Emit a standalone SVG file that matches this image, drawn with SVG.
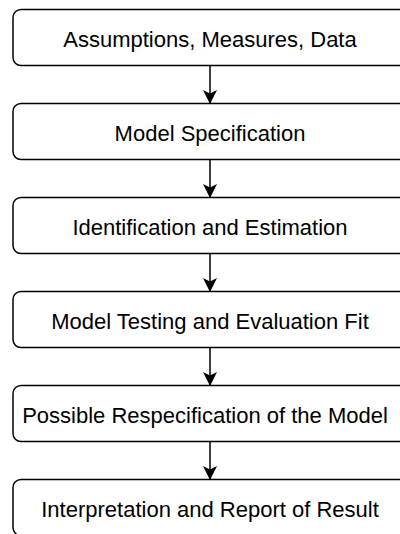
<svg xmlns="http://www.w3.org/2000/svg" width="400" height="534" viewBox="0 0 400 534">
<defs>
<style>
.box{fill:#fff;stroke:#000;stroke-width:1.5}
.lbl{font-family:"Liberation Sans",Arial,Helvetica,sans-serif;font-size:22px;fill:#000;text-anchor:middle}
.edge{stroke:#000;stroke-width:1.5;fill:none}
</style>
<marker id="arr" viewBox="0 0 14 14" refX="13" refY="7" markerWidth="14" markerHeight="14" markerUnits="userSpaceOnUse" orient="auto">
<path d="M0,0 L14,7 L0,14 L3.5,7 Z" fill="#000"/>
</marker>
</defs>
<rect width="400" height="534" fill="#fff"/>
<g id="connectors">
<line class="edge" x1="210" y1="65.5" x2="210" y2="103" marker-end="url(#arr)"/>
<line class="edge" x1="210" y1="159.5" x2="210" y2="197" marker-end="url(#arr)"/>
<line class="edge" x1="210" y1="253.5" x2="210" y2="291" marker-end="url(#arr)"/>
<line class="edge" x1="210" y1="347.5" x2="210" y2="385" marker-end="url(#arr)"/>
<line class="edge" x1="210" y1="441.5" x2="210" y2="479" marker-end="url(#arr)"/>
</g>
<g id="n1"><rect class="box" x="13" y="9.5" width="394" height="56" rx="8"/><text class="lbl" x="210" y="46.5">Assumptions, Measures, Data</text></g>
<g id="n2"><rect class="box" x="13" y="103.5" width="394" height="56" rx="8"/><text class="lbl" x="210" y="140.5">Model Specification</text></g>
<g id="n3"><rect class="box" x="13" y="197.5" width="394" height="56" rx="8"/><text class="lbl" x="210" y="234.5">Identification and Estimation</text></g>
<g id="n4"><rect class="box" x="13" y="291.5" width="394" height="56" rx="8"/><text class="lbl" x="210" y="328.5">Model Testing and Evaluation Fit</text></g>
<g id="n5"><rect class="box" x="13" y="385.5" width="394" height="56" rx="8"/><text class="lbl" x="205" y="422.5">Possible Respecification of the Model</text></g>
<g id="n6"><rect class="box" x="13" y="479.5" width="394" height="56" rx="8"/><text class="lbl" x="210" y="516.5">Interpretation and Report of Result</text></g>
</svg>
